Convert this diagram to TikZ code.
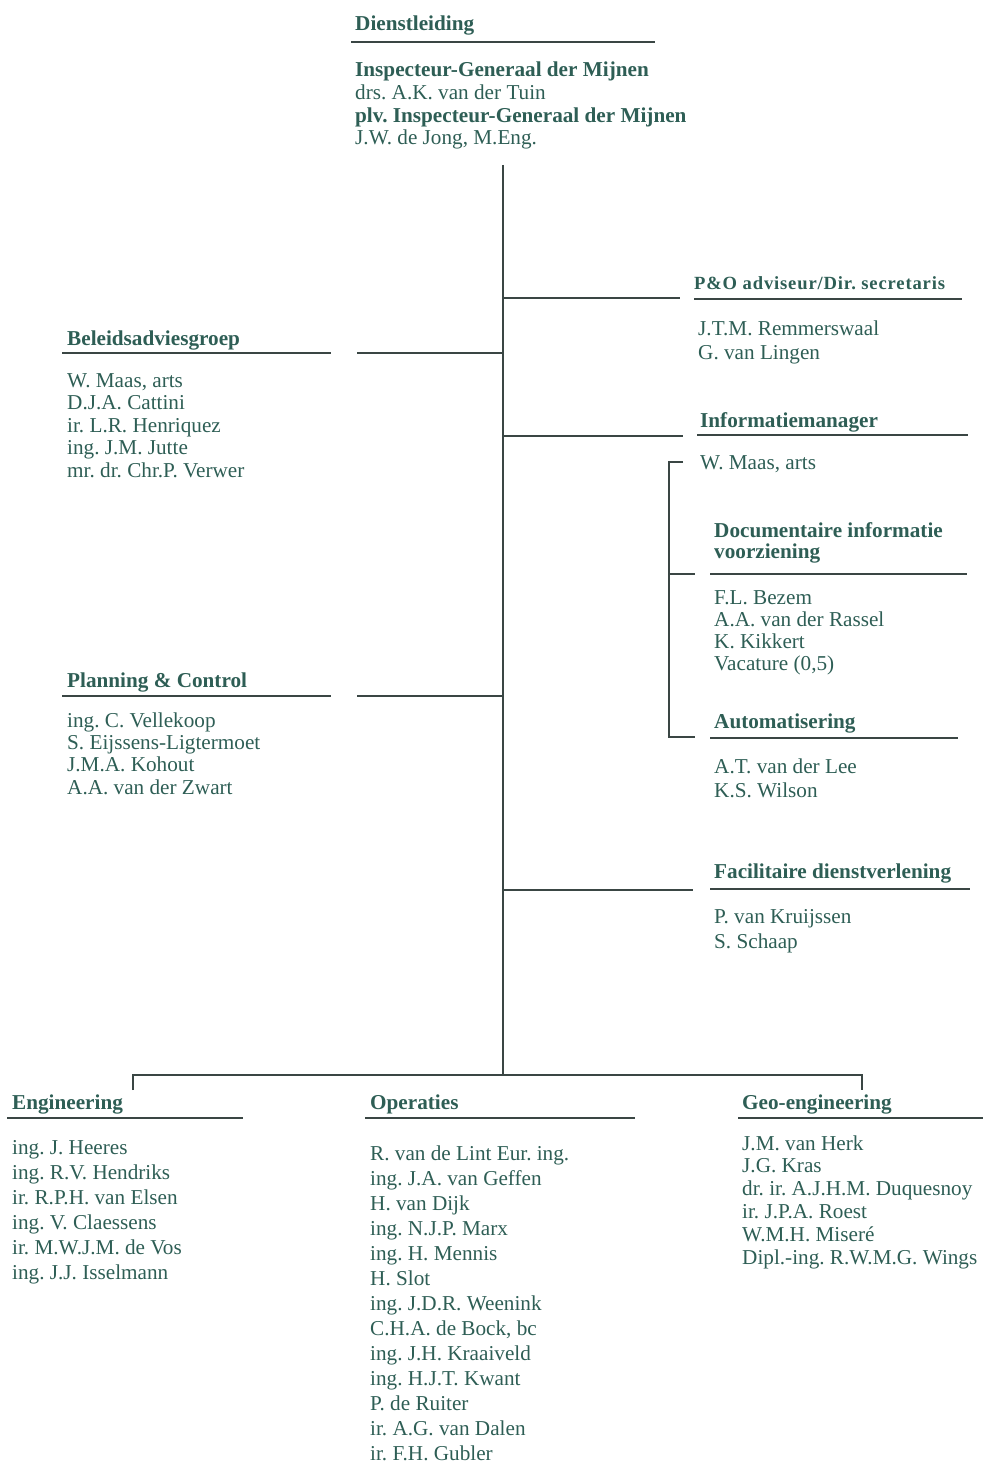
\documentclass[tikz,border=0pt]{standalone}
\usepackage{fontspec}
\setmainfont{Liberation Serif}
\frenchspacing
\definecolor{tc}{HTML}{2E5E55}
\definecolor{lc}{HTML}{3A4644}
\tikzset{
  hd/.style={anchor=base west, inner sep=0pt, text=tc, font=\bfseries\fontsize{21.2}{23}\selectfont},
  hdsmall/.style={anchor=base west, inner sep=0pt, text=tc, font=\bfseries\fontsize{18.6}{21}\selectfont\addfontfeatures{LetterSpace=4.5}},
  nm/.style={anchor=base west, inner sep=0pt, text=tc, font=\fontsize{21.2}{23}\selectfont},
  ul/.style={draw=lc, line width=1.8pt},
  cn/.style={draw=lc, line width=1.4pt},
}
\begin{document}
\begin{tikzpicture}[x=1pt,y=-1pt]
\useasboundingbox (0,0) rectangle (1001,1463);

% ---------------- Dienstleiding ----------------
\node[hd] (dl) at (355,31) {Dienstleiding};
\coordinate (dlL) at (351,42); \coordinate (dlR) at (655,42);
\draw[ul] (dlL) -- (dlR);
\node[hd] (dl1) at (355,77) {Inspecteur-Generaal der Mijnen};
\node[nm] (dl2) at (355,99.6) {drs. A.K. van der Tuin};
\node[hd] (dl3) at (355,122.2) {plv. Inspecteur-Generaal der Mijnen};
\node[nm] (dl4) at (355,144.8) {J.W. de Jong, M.Eng.};

% ---------------- trunk ----------------
\coordinate (tTop) at (503,165);
\coordinate (tBot) at (503,1075);
\draw[cn] (tTop) -- (tBot);

% ---------------- P&O ----------------
\node[hdsmall] (po) at (694,289) {P\&O adviseur/Dir. secretaris};
\coordinate (poL) at (694,299); \coordinate (poR) at (962,299);
\draw[ul] (poL) -- (poR);
\coordinate (poJ) at (503,298); \coordinate (poE) at (680,298);
\draw[cn] (poJ) -- (poE);
\node[nm] (po1) at (698,335) {J.T.M. Remmerswaal};
\node[nm] (po2) at (698,359) {G. van Lingen};

% ---------------- Beleidsadviesgroep ----------------
\node[hd] (ba) at (67,345) {Beleidsadviesgroep};
\coordinate (baL) at (62,353); \coordinate (baR) at (331,353);
\draw[ul] (baL) -- (baR);
\coordinate (baJ) at (503,353); \coordinate (baE) at (357,353);
\draw[cn] (baJ) -- (baE);
\foreach \t [count=\i from 0] in {{W. Maas, arts},{D.J.A. Cattini},{ir. L.R. Henriquez},{ing. J.M. Jutte},{mr. dr. Chr.P. Verwer}}
  \node[nm] (ba\i) at (67,387+\i*22.6) {\t};

% ---------------- Informatiemanager ----------------
\node[hd] (im) at (700,427) {Informatiemanager};
\coordinate (imL) at (697,435); \coordinate (imR) at (968,435);
\draw[ul] (imL) -- (imR);
\coordinate (imJ) at (503,436); \coordinate (imE) at (683,436);
\draw[cn] (imJ) -- (imE);
\node[nm] (im1) at (700,469) {W. Maas, arts};

% bracket
\coordinate (brT) at (669,462); \coordinate (brTe) at (683,462);
\coordinate (brB) at (669,737); \coordinate (brBe) at (695,737);
\coordinate (brM) at (669,574); \coordinate (brMe) at (695,574);
\draw[cn] (brTe) -- (brT) -- (brB) -- (brBe);
\draw[cn] (brM) -- (brMe);

% Documentaire informatie voorziening
\node[hd] (di1) at (714,537) {Documentaire informatie};
\node[hd] (di2) at (714,558) {voorziening};
\coordinate (diL) at (710,574); \coordinate (diR) at (967,574);
\draw[ul] (diL) -- (diR);
\foreach \t [count=\i from 0] in {{F.L. Bezem},{A.A. van der Rassel},{K. Kikkert},{Vacature (0,5)}}
  \node[nm] (dn\i) at (714,604+\i*22) {\t};

% Automatisering
\node[hd] (au) at (714,728) {Automatisering};
\coordinate (auL) at (710,738); \coordinate (auR) at (958,738);
\draw[ul] (auL) -- (auR);
\node[nm] (au1) at (714,773) {A.T. van der Lee};
\node[nm] (au2) at (714,797) {K.S. Wilson};

% ---------------- Planning & Control ----------------
\node[hd] (pc) at (67,687) {Planning \& Control};
\coordinate (pcL) at (62,696); \coordinate (pcR) at (331,696);
\draw[ul] (pcL) -- (pcR);
\coordinate (pcJ) at (503,696); \coordinate (pcE) at (357,696);
\draw[cn] (pcJ) -- (pcE);
\foreach \t [count=\i from 0] in {{ing. C. Vellekoop},{S. Eijssens-Ligtermoet},{J.M.A. Kohout},{A.A. van der Zwart}}
  \node[nm] (pc\i) at (67,727+\i*22.4) {\t};

% ---------------- Facilitaire dienstverlening ----------------
\node[hd] (fd) at (714,878) {Facilitaire dienstverlening};
\coordinate (fdL) at (710,889); \coordinate (fdR) at (970,889);
\draw[ul] (fdL) -- (fdR);
\coordinate (fdJ) at (503,890); \coordinate (fdE) at (693,890);
\draw[cn] (fdJ) -- (fdE);
\node[nm] (fd1) at (714,923) {P. van Kruijssen};
\node[nm] (fd2) at (714,948) {S. Schaap};

% ---------------- bottom bar ----------------
\coordinate (bL) at (133,1075); \coordinate (bR) at (862,1075);
\coordinate (bLd) at (133,1090); \coordinate (bRd) at (862,1090);
\draw[cn] (bLd) -- (bL) -- (bR) -- (bRd);

% Engineering
\node[hd] (en) at (12,1109) {Engineering};
\coordinate (enL) at (7,1118); \coordinate (enR) at (243,1118);
\draw[ul] (enL) -- (enR);
\foreach \t [count=\i from 0] in {{ing. J. Heeres},{ing. R.V. Hendriks},{ir. R.P.H. van Elsen},{ing. V. Claessens},{ir. M.W.J.M. de Vos},{ing. J.J. Isselmann}}
  \node[nm] (en\i) at (12,1154+\i*25) {\t};

% Operaties
\node[hd] (op) at (370,1109) {Operaties};
\coordinate (opL) at (365,1118); \coordinate (opR) at (635,1118);
\draw[ul] (opL) -- (opR);
\foreach \t [count=\i from 0] in {{R. van de Lint Eur. ing.},{ing. J.A. van Geffen},{H. van Dijk},{ing. N.J.P. Marx},{ing. H. Mennis},{H. Slot},{ing. J.D.R. Weenink},{C.H.A. de Bock, bc},{ing. J.H. Kraaiveld},{ing. H.J.T. Kwant},{P. de Ruiter},{ir. A.G. van Dalen},{ir. F.H. Gubler}}
  \node[nm] (op\i) at (370,1160+\i*25) {\t};

% Geo-engineering
\node[hd] (ge) at (742,1109) {Geo-engineering};
\coordinate (geL) at (738,1118); \coordinate (geR) at (983,1118);
\draw[ul] (geL) -- (geR);
\foreach \t [count=\i from 0] in {{J.M. van Herk},{J.G. Kras},{dr. ir. A.J.H.M. Duquesnoy},{ir. J.P.A. Roest},{W.M.H. Miseré},{Dipl.-ing. R.W.M.G. Wings}}
  \node[nm] (ge\i) at (742,1150+\i*22.8) {\t};
\end{tikzpicture}
\end{document}
